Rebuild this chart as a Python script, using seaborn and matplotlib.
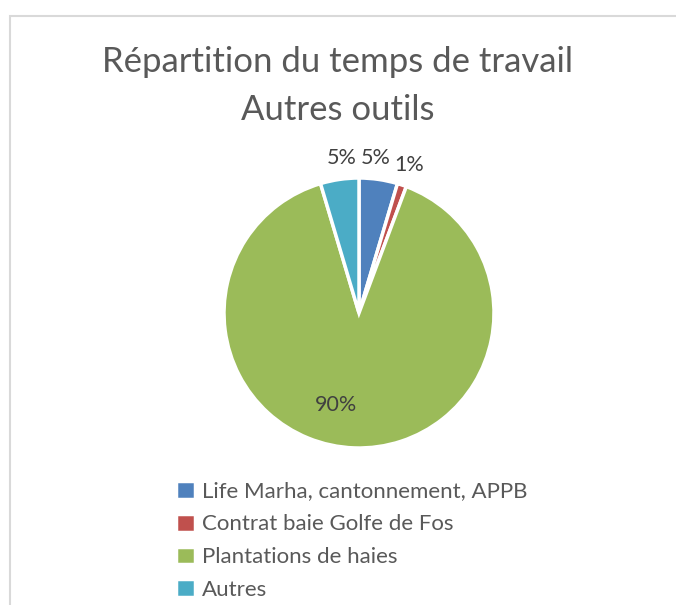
import numpy as np
import seaborn as sns
import matplotlib.pyplot as plt
from matplotlib.patches import Rectangle

categories = ['Life Marha, cantonnement, APPB', 'Contrat baie Golfe de Fos',
              'Plantations de haies', 'Autres']
values = [4.6, 1.1, 89.7, 4.6]
colors = ['#4F81BD', '#C0504D', '#9BBB59', '#4BACC6']
title_lines = ['Répartition du temps de travail', 'Autres outils']

sns.set_theme(style='white')
plt.rcParams['font.family'] = ['Lato', 'DejaVu Sans']
text_color = '#595959'

fig = plt.figure(figsize=(6.76, 6.05), dpi=100)
fig.patch.set_facecolor('white')

# chart frame, open at right and bottom like the cropped screenshot
fig.add_artist(Rectangle((10 / 676, -0.1), 1.1, 1.1 - 16 / 605,
                         transform=fig.transFigure, fill=False,
                         edgecolor='#d9d9d9', linewidth=1.5))

ax = fig.add_axes([224 / 676, 1 - 448 / 605, 270 / 676, 270 / 605])
wedges, _ = ax.pie(values, colors=colors, startangle=90, counterclock=False,
                   radius=1, wedgeprops=dict(edgecolor='white', linewidth=2.5))
ax.set_xlim(-1, 1)
ax.set_ylim(-1, 1)
ax.set_aspect('auto')
ax.axis('off')

# data labels: small slices outside (pulled together), big slice inside
total = sum(values)
cum = 0
for v in values:
    frac = v / total
    mid = np.deg2rad(90 - 360 * (cum + frac / 2))
    cum += frac
    if frac < 0.2:
        x, y = 1.17 * np.cos(mid), 1.16 * np.sin(mid)
        if abs(x) < 0.2:
            x *= 0.75
    else:
        x, y = 0.68 * np.cos(mid) - 0.15, 0.68 * np.sin(mid)
    ax.text(x, y, f'{round(frac * 100)}%', ha='center', va='center',
            fontsize=15.5, color='#404040')

fig.text(0.5, 1 - 62 / 605, title_lines[0], ha='center', va='center',
         fontsize=25, color=text_color)
fig.text(0.5, 1 - 110 / 605, title_lines[1], ha='center', va='center',
         fontsize=25, color=text_color)

fig.legend(wedges, categories, loc='upper left',
           bbox_to_anchor=(156 / 676, 1 - 461 / 605), frameon=False,
           fontsize=16, labelcolor=text_color, handlelength=0.85,
           handleheight=0.85, handletextpad=0.3, labelspacing=0.55)

plt.savefig('out.png', dpi=100)
plt.close()
